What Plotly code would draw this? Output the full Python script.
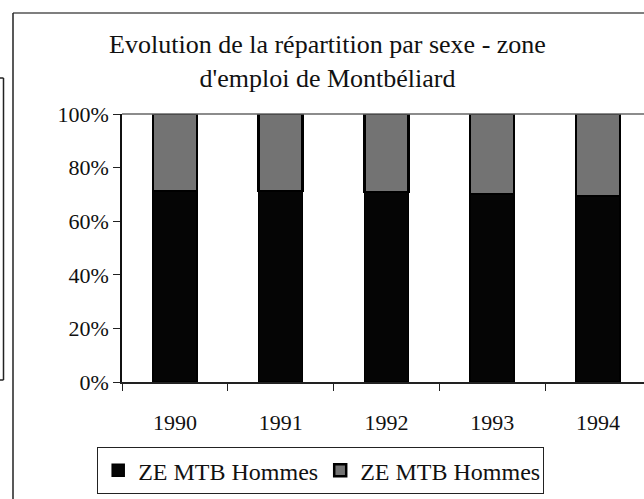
import plotly.graph_objects as go

years = ["1990", "1991", "1992", "1993", "1994"]
hommes = [71.2, 71.2, 70.9, 70.1, 69.4]
femmes = [100 - v for v in hommes]
y_ticks = [0, 20, 40, 60, 80, 100]
y_tick_labels = ["0%", "20%", "40%", "60%", "80%", "100%"]
series_names = ["ZE MTB Hommes", "ZE MTB Hommes"]

W, H = 644, 499
L, T, B = 122, 114, 117
plot_w = W - L
plot_h = H - T - B
cat_px = 105.75

def px_x(px):
    return (px - L) / plot_w

def px_y(py):
    return (H - B - py) / plot_h

FONT = "Liberation Serif"

fig = go.Figure()
fig.add_trace(go.Bar(x=years, y=hommes, name=series_names[0],
                     marker=dict(color="#050505", line=dict(color="#000000", width=1.5)),
                     width=0.415))
fig.add_trace(go.Bar(x=years, y=femmes, name=series_names[1],
                     marker=dict(color="#737373", line=dict(color="#000000", width=2.5)),
                     width=0.415))

shapes = [
    dict(type="line", xref="paper", yref="paper", x0=0, x1=1, y0=1, y1=1,
         line=dict(color="#666666", width=1.5)),
    dict(type="line", xref="paper", yref="paper", x0=px_x(13), x1=px_x(650),
         y0=px_y(13), y1=px_y(13), line=dict(color="#555555", width=1.5)),
    dict(type="line", xref="paper", yref="paper", x0=px_x(13), x1=px_x(13),
         y0=px_y(13), y1=px_y(505), line=dict(color="#222222", width=1.5)),
    dict(type="line", xref="paper", yref="paper", x0=px_x(3.5), x1=px_x(3.5),
         y0=px_y(78), y1=px_y(380), line=dict(color="#222222", width=1.5)),
    dict(type="line", xref="paper", yref="paper", x0=px_x(-2), x1=px_x(3.5),
         y0=px_y(78), y1=px_y(78), line=dict(color="#222222", width=1.5)),
    dict(type="line", xref="paper", yref="paper", x0=px_x(-2), x1=px_x(3.5),
         y0=px_y(380), y1=px_y(380), line=dict(color="#222222", width=1.5)),
]

fig.update_layout(
    width=W, height=H,
    margin=dict(l=L, r=0, t=T, b=B, pad=0),
    paper_bgcolor="white", plot_bgcolor="white",
    barmode="stack",
    font=dict(family=FONT, color="#111111", size=22),
    title=dict(
        text="Evolution de la répartition par sexe - zone<br>d'emploi de Montbéliard",
        font=dict(family=FONT, size=26, color="#111111"),
        x=327.5 / W, xanchor="center", xref="container",
        y=1 - 53 / H, yanchor="top", yref="container",
    ),
    xaxis=dict(
        type="category",
        range=[-0.5, -0.5 + plot_w / cat_px],
        showline=True, linecolor="#222222", linewidth=1.5,
        ticks="outside", tickson="boundaries", ticklen=7, tickcolor="#222222", tickwidth=1.2,
        showgrid=False, zeroline=False,
        tickfont=dict(family=FONT, size=22, color="#111111"),
        ticklabelstandoff=20,
    ),
    yaxis=dict(
        range=[0, 100],
        tickvals=y_ticks, ticktext=y_tick_labels,
        showline=True, linecolor="#111111", linewidth=1.5,
        ticks="outside", ticklen=7, tickcolor="#222222", tickwidth=1.2,
        showgrid=False, zeroline=False,
        tickfont=dict(family=FONT, size=22, color="#111111"),
    ),
    legend=dict(
        orientation="h", traceorder="normal",
        x=px_x(97), xanchor="left", y=px_y(447), yanchor="top",
        bordercolor="#222222", borderwidth=1.2, bgcolor="white",
        font=dict(family=FONT, size=24, color="#111111"),
        itemwidth=30, entrywidth=177, entrywidthmode="pixels",
    ),
    shapes=shapes,
    showlegend=True,
)

fig.write_html("out.html", config={"displayModeBar": False},
               post_script="document.body.style.margin='0';")
